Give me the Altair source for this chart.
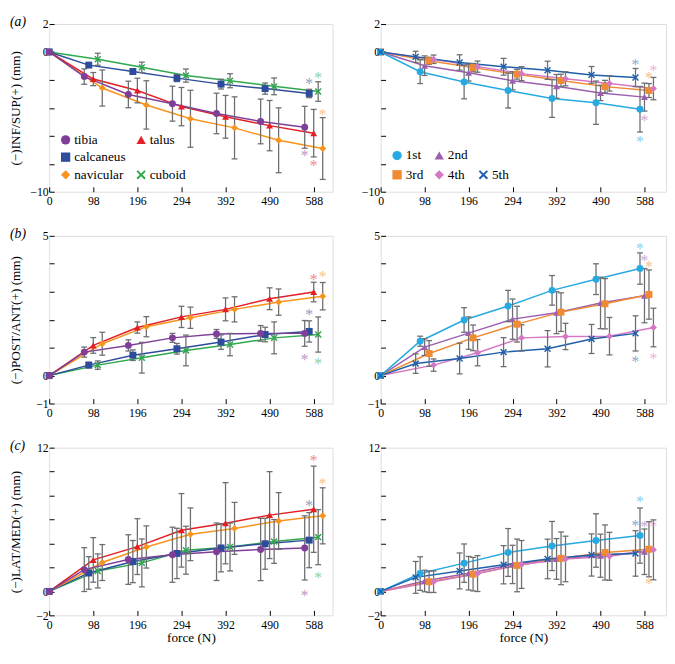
import altair as alt
import pandas as pd

SERIF = "Liberation Serif, Times New Roman, DejaVu Serif, serif"
GRAY = "#6d6e71"

FORCES = [98, 196, 294, 392, 490, 588]
BONES = ["tibia", "talus", "calcaneus", "navicular", "cuboid"]
METAS = ["1st", "2nd", "3rd", "4th", "5th"]

# ---------------- (a) INF/SUP ----------------
A_BONE_MEAN = {
    "tibia":     [-1.76, -3.04, -3.70, -4.40, -4.97, -5.39],
    "talus":     [-1.94, -2.76, -3.91, -4.64, -5.27, -5.81],
    "calcaneus": [-0.94, -1.40, -1.87, -2.30, -2.62, -2.97],
    "navicular": [-2.58, -3.79, -4.78, -5.43, -6.32, -6.91],
    "cuboid":    [-0.52, -1.10, -1.69, -2.06, -2.46, -2.83],
}
A_BONE_ERR = {
    "tibia":     [0.55, 0.95, 1.25, 1.45, 1.60, 1.50],
    "talus":     [0.47, 0.88, 1.37, 1.53, 1.80, 1.70],
    "calcaneus": [0.15, 0.20, 0.25, 0.35, 0.40, 0.30],
    "navicular": [1.29, 1.73, 2.04, 2.22, 2.32, 2.21],
    "cuboid":    [0.43, 0.37, 0.47, 0.50, 0.60, 0.70],
}
A_BONE_STAR = {"tibia": -7.2, "talus": -7.9, "calcaneus": -2.0, "navicular": -4.26, "cuboid": -1.6}

A_META_MEAN = {
    "1st": [-1.41, -2.15, -2.76, -3.33, -3.63, -4.10],
    "2nd": [-0.98, -1.48, -2.06, -2.46, -2.93, -3.23],
    "3rd": [-0.63, -1.12, -1.59, -2.04, -2.48, -2.76],
    "4th": [-0.52, -1.05, -1.55, -1.92, -2.25, -2.62],
    "5th": [-0.35, -0.75, -1.05, -1.31, -1.64, -1.83],
}
A_META_ERR = {
    "1st": [0.85, 1.20, 1.25, 1.35, 1.55, 1.63],
    "2nd": [0.70, 0.60, 0.65, 0.85, 0.55, 1.00],
    "3rd": [0.25, 0.30, 0.35, 0.45, 0.45, 0.50],
    "4th": [0.30, 0.40, 0.50, 0.50, 0.55, 0.80],
    "5th": [0.40, 0.55, 0.60, 0.65, 0.60, 0.65],
}
A_META_STAR = {"1st": -6.2, "2nd": -4.68, "3rd": -1.6, "4th": -1.12, "5th": -0.63}

# ---------------- (b) POST/ANT ----------------
B_BONE_MEAN = {
    "tibia":     [0.84, 1.08, 1.35, 1.49, 1.51, 1.51],
    "talus":     [1.08, 1.72, 2.10, 2.37, 2.75, 2.99],
    "calcaneus": [0.375, 0.73, 0.96, 1.20, 1.47, 1.58],
    "navicular": [1.14, 1.75, 2.07, 2.37, 2.63, 2.84],
    "cuboid":    [0.375, 0.64, 0.90, 1.11, 1.35, 1.47],
}
B_BONE_ERR = {
    "tibia":     [0.18, 0.20, 0.16, 0.16, 0.28, 0.46],
    "talus":     [0.28, 0.20, 0.38, 0.41, 0.39, 0.35],
    "calcaneus": [0.10, 0.19, 0.19, 0.26, 0.26, 0.38],
    "navicular": [0.41, 0.36, 0.38, 0.45, 0.47, 0.49],
    "cuboid":    [0.15, 0.55, 0.55, 0.40, 0.57, 0.63],
}
B_BONE_STAR = {"tibia": 0.7, "talus": 3.56, "calcaneus": 2.29, "navicular": 3.66, "cuboid": 0.55}

B_META_MEAN = {
    "1st": [1.23, 1.99, 2.49, 3.05, 3.45, 3.83],
    "2nd": [1.02, 1.52, 2.02, 2.25, 2.60, 2.86],
    "3rd": [0.79, 1.35, 1.84, 2.27, 2.57, 2.90],
    "4th": [0.375, 0.82, 1.35, 1.40, 1.41, 1.72],
    "5th": [0.43, 0.61, 0.84, 0.96, 1.31, 1.51],
}
B_META_ERR = {
    "1st": [0.18, 0.44, 0.56, 0.53, 0.55, 0.56],
    "2nd": [0.30, 0.58, 0.72, 0.75, 0.92, 0.97],
    "3rd": [0.46, 0.46, 0.64, 0.69, 0.90, 0.88],
    "4th": [0.22, 0.47, 0.47, 0.47, 0.67, 0.69],
    "5th": [0.35, 0.55, 0.52, 0.65, 0.52, 0.63],
}
B_META_STAR = {"1st": 4.68, "2nd": 4.24, "3rd": 4.04, "4th": 0.73, "5th": 0.61}

# ---------------- (c) LAT/MED ----------------
C_BONE_MEAN = {
    "tibia":     [1.82, 2.66, 3.06, 3.31, 3.50, 3.63],
    "talus":     [2.63, 3.74, 5.10, 5.69, 6.37, 6.86],
    "calcaneus": [1.54, 2.49, 3.17, 3.63, 3.98, 4.28],
    "navicular": [2.41, 3.71, 4.77, 5.26, 5.88, 6.31],
    "cuboid":    [1.71, 2.38, 3.44, 3.71, 4.17, 4.53],
}
C_BONE_ERR = {
    "tibia":     [1.83, 2.07, 2.30, 2.40, 2.60, 2.68],
    "talus":     [1.86, 2.33, 3.07, 3.39, 3.63, 3.60],
    "calcaneus": [1.36, 1.76, 2.10, 2.00, 2.13, 2.30],
    "navicular": [1.50, 1.76, 2.20, 2.17, 2.37, 2.34],
    "cuboid":    [1.42, 2.00, 2.00, 2.00, 1.83, 2.30],
}
C_BONE_STAR = {"tibia": -0.05, "talus": 11.17, "calcaneus": 7.45, "navicular": 9.3, "cuboid": 1.44}

C_META_MEAN = {
    "1st": [1.49, 2.36, 3.25, 3.79, 4.25, 4.66],
    "2nd": [0.87, 1.52, 2.25, 2.71, 2.98, 3.31],
    "3rd": [0.81, 1.44, 2.17, 2.76, 3.25, 3.52],
    "4th": [0.81, 1.49, 2.25, 2.71, 2.93, 3.47],
    "5th": [1.17, 1.71, 2.22, 2.71, 3.04, 3.17],
}
C_META_ERR = {
    "1st": [1.40, 1.60, 2.00, 2.05, 2.23, 2.30],
    "2nd": [0.90, 1.40, 1.60, 1.70, 1.80, 1.90],
    "3rd": [0.90, 1.40, 2.20, 2.20, 2.30, 2.30],
    "4th": [0.90, 1.50, 2.00, 1.90, 2.00, 2.50],
    "5th": [1.33, 1.50, 1.60, 1.65, 1.76, 1.90],
}
C_META_STAR = {"1st": 7.78, "2nd": 5.69, "3rd": 0.95, "4th": 5.69, "5th": 5.77}

# ---------------- styles ----------------
XPATH = ("M-1,-0.7L-0.7,-1L0,-0.3L0.7,-1L1,-0.7L0.3,0L1,0.7L0.7,1"
         "L0,0.3L-0.7,1L-1,0.7L-0.3,0Z")
CLEAR = "rgba(0,0,0,0)"
STYLE = {
    "bone": {
        "series": BONES,
        "legend_order": ["tibia", "talus", "calcaneus", " ", "navicular", "cuboid"],
        "colors": {"tibia": "#7f3f98", "talus": "#e31e24", "calcaneus": "#2e4c9c",
                   " ": CLEAR, "navicular": "#f7941d", "cuboid": "#2fa84f"},
        "shapes": {"tibia": "circle", "talus": "triangle-up", "calcaneus": "square",
                   " ": "circle", "navicular": "diamond", "cuboid": XPATH},
        "dodge": {"tibia": -20, "calcaneus": -10, "talus": 0, "cuboid": 10, "navicular": 20},
        "draw": ["cuboid", "calcaneus", "navicular", "talus", "tibia"],
        "columns": 2,
        "row_pad": 3,
    },
    "meta": {
        "series": METAS,
        "legend_order": ["1st", "2nd", " ", "3rd", "4th", "5th"],
        "colors": {"1st": "#27aae1", "2nd": "#9b5fb0", " ": CLEAR, "3rd": "#f08a33",
                   "4th": "#d478c4", "5th": "#1f5fa9"},
        "shapes": {"1st": "circle", "2nd": "triangle-up", " ": "circle", "3rd": "square",
                   "4th": "diamond", "5th": XPATH},
        "dodge": {"5th": -20, "1st": -10, "2nd": 0, "3rd": 10, "4th": 20},
        "draw": ["2nd", "3rd", "4th", "1st", "5th"],
        "columns": 3,
        "row_pad": 5,
    },
}

H = 171
LABEL_FS = 12
TITLE_FS = 13.5


def panel(kind, means, errs, stars, ydom, ystep, ylabels, ytitle, letter, letter_vis,
          xtitle, show_legend, width, xmax):
    st = STYLE[kind]
    rows = []
    for s in st["draw"]:
        rows.append({"series": s, "force": 0, "x": 0, "y": 0.0, "lo": 0.0, "hi": 0.0})
        for f, m, e in zip(FORCES, means[s], errs[s]):
            rows.append({"series": s, "force": f, "x": f + st["dodge"][s],
                         "y": m, "lo": m - e, "hi": m + e})
    df = pd.DataFrame(rows)
    sdf = pd.DataFrame({"series": list(stars.keys()),
                        "x": [FORCES[-1] + st["dodge"][s] for s in stars],
                        "y": list(stars.values())})

    ser = st["series"]
    lscale = alt.Scale(domain=ser, range=[st["colors"][s] for s in ser])
    order = st["legend_order"]
    cscale = alt.Scale(domain=order, range=[st["colors"][s] for s in order])
    sscale = alt.Scale(domain=order, range=[st["shapes"][s] for s in order])

    xscale = alt.Scale(domain=[0, xmax], nice=False, zero=False)
    yscale = alt.Scale(domain=ydom, nice=False, zero=False)
    yvals = []
    v = ydom[0]
    while v <= ydom[1] + 1e-9:
        yvals.append(v)
        v += ystep
    lab_cond = " || ".join(f"datum.value == {l}" for l in ylabels)
    xaxis = alt.Axis(values=[0] + FORCES, offset=-5, ticks=True, tickSize=5,
                     tickColor="black", tickWidth=1, domain=False, grid=False,
                     labelFont=SERIF, labelFontSize=LABEL_FS, labelColor="black",
                     labelFlush=False, labelOverlap=False, labelPadding=4,
                     title=xtitle if xtitle else None, titleFont=SERIF,
                     titleFontSize=TITLE_FS, titleFontWeight="normal",
                     titleColor="black", titlePadding=1)
    yaxis = alt.Axis(values=yvals, labelExpr=f"({lab_cond}) ? datum.label : ''",
                     offset=-5, ticks=True, tickSize=5, tickColor="black", tickWidth=1,
                     domain=False, grid=False,
                     labelFont=SERIF, labelFontSize=LABEL_FS, labelColor="black",
                     labelPadding=1, labelOverlap=False, minExtent=32, maxExtent=32,
                     title=ytitle, titleFont=SERIF, titleFontSize=TITLE_FS,
                     titleFontWeight="normal", titleColor="black", titlePadding=0)

    def X(field):
        return alt.X(f"{field}:Q", scale=xscale, axis=xaxis)

    def Y(field):
        return alt.Y(f"{field}:Q", scale=yscale, axis=yaxis)

    if show_legend:
        leg = alt.Legend(orient="bottom-left", offset=10, direction="horizontal",
                         columns=st["columns"], title=None, labelFont=SERIF,
                         labelFontSize=TITLE_FS, labelColor="black", symbolSize=90,
                         rowPadding=st["row_pad"], columnPadding=9, labelOffset=2)
    else:
        leg = None

    base = alt.Chart(df)
    lines = base.mark_line(strokeWidth=1.5).encode(
        x=X("x"), y=Y("y"),
        stroke=alt.Stroke("series:N", scale=lscale, legend=None),
        order=alt.Order("x:Q"))
    bars = base.transform_filter("datum.force > 0").mark_rule(
        color=GRAY, strokeWidth=1.3).encode(x=X("x"), y=Y("lo"), y2="hi:Q")
    cap_lo = base.transform_filter("datum.force > 0").mark_tick(
        orient="horizontal", color=GRAY, thickness=1.3, size=6, opacity=1).encode(
        x=X("x"), y=Y("lo"))
    cap_hi = base.transform_filter("datum.force > 0").mark_tick(
        orient="horizontal", color=GRAY, thickness=1.3, size=6, opacity=1).encode(
        x=X("x"), y=Y("hi"))
    pts = base.mark_point(filled=True, size=50, opacity=1).encode(
        x=X("x"), y=Y("y"),
        color=alt.Color("series:N", scale=cscale, legend=leg),
        shape=alt.Shape("series:N", scale=sscale, legend=leg))
    star = alt.Chart(sdf).mark_text(text="*", font=SERIF, fontSize=16, opacity=0.55,
                                     baseline="middle", dy=4).encode(
        x=X("x"), y=Y("y"),
        fill=alt.Fill("series:N", scale=lscale, legend=None))
    tag = alt.Chart(pd.DataFrame({"tag": [letter]})).mark_text(
        font=SERIF, fontSize=14, fontStyle="italic", align="left", baseline="middle",
        color="black", opacity=1 if letter_vis else 0).encode(
        text="tag:N", x=alt.value(-40), y=alt.value(-2))

    return alt.layer(lines, bars, cap_lo, cap_hi, pts, star, tag).properties(
        width=width, height=H)


def row(letter, bm, be, bs, mm, me, ms, ydom, ystep, ylabels, ytitle, xtitle, legend):
    left = panel("bone", bm, be, bs, ydom, ystep, ylabels, ytitle, letter, True,
                 xtitle, legend, 289, 630)
    right = panel("meta", mm, me, ms, ydom, ystep, ylabels, " ", letter, False,
                  xtitle, legend, 291, 636)
    return alt.hconcat(left, right, spacing=6).resolve_scale(
        x="independent", y="independent", color="independent", shape="independent",
        stroke="independent", fill="independent")


row_a = row("(a)", A_BONE_MEAN, A_BONE_ERR, A_BONE_STAR, A_META_MEAN, A_META_ERR,
            A_META_STAR, [-10, 2], 2, [2, 0, -10], "(\u2212)INF/SUP(+) (mm)", None, True)
row_b = row("(b)", B_BONE_MEAN, B_BONE_ERR, B_BONE_STAR, B_META_MEAN, B_META_ERR,
            B_META_STAR, [-1, 5], 1, [5, 0, -1], "(\u2212)POST/ANT(+) (mm)", None, False)
row_c = row("(c)", C_BONE_MEAN, C_BONE_ERR, C_BONE_STAR, C_META_MEAN, C_META_ERR,
            C_META_STAR, [-2, 12], 2, [12, 0, -2], "(\u2212)LAT/MED(+) (mm)", "force (N)",
            False)

chart = alt.vconcat(row_a, row_b, row_c, spacing=19).resolve_scale(
    x="independent", y="independent", color="independent", shape="independent",
    stroke="independent", fill="independent"
).properties(padding=0).configure_view(stroke="black", strokeWidth=1).configure(
    background="white")

chart.save("out.html", embed_options={"renderer": "svg", "actions": False})
